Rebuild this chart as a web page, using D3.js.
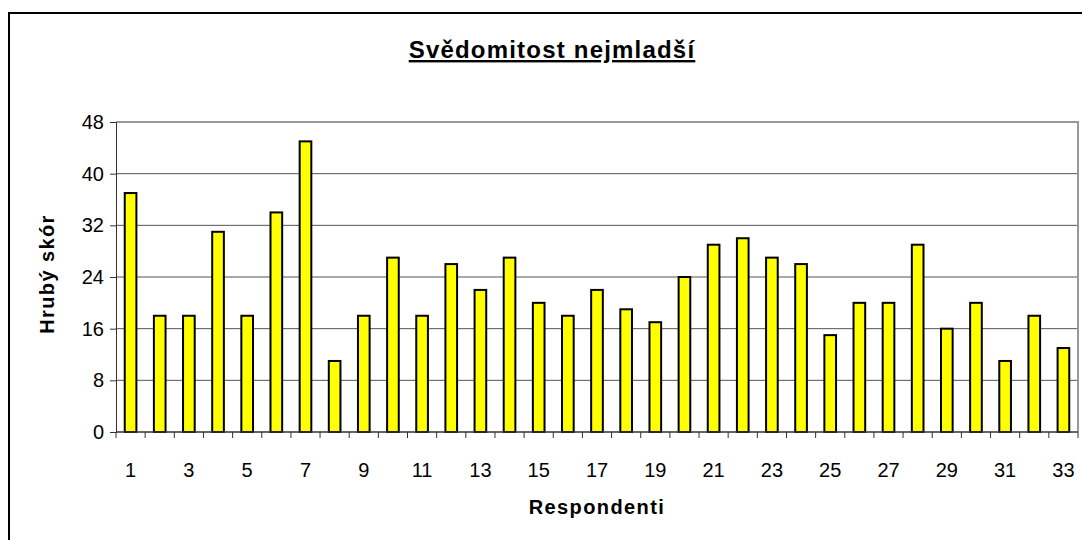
<!DOCTYPE html>
<html>
<head>
<meta charset="utf-8">
<script src="https://cdn.jsdelivr.net/npm/d3@7"></script>
<style>
  body { margin: 0; background: #fff; }
  text { font-family: "Liberation Sans", Arial, sans-serif; }
</style>
</head>
<body>
<div id="chart"></div>
<script>
// Svědomitost nejmladší - hrubý skór podle respondentů
var respondents = d3.range(1, 34);
var scores = [37, 18, 18, 31, 18, 34, 45, 11, 18, 27, 18, 26, 22, 27, 20, 18, 22, 19, 17, 24,
              29, 30, 27, 26, 15, 20, 20, 29, 16, 20, 11, 18, 13];
var yTicks = [0, 8, 16, 24, 32, 40, 48];

var width = 1082,
    height = 540,
    plotLeft = 116, plotRight = 1078,
    plotTop = 122, plotBottom = 432;

var svg = d3.select('#chart').append('svg')
    .attr('width', width)
    .attr('height', height);

// outer frame
svg.append('rect')
    .attr('x', 9).attr('y', 13)
    .attr('width', 1100).attr('height', 560)
    .style('fill', 'none')
    .style('stroke', '#000')
    .style('stroke-width', 2);

var xScale = d3.scaleBand()
    .domain(respondents)
    .range([plotLeft, plotRight])
    .paddingInner(0.6)
    .paddingOuter(0.3);

var xBand = d3.scaleBand()
    .domain(respondents)
    .range([plotLeft, plotRight]);

var yScale = d3.scaleLinear()
    .domain([0, 48])
    .range([plotBottom, plotTop]);

// gridlines
svg.append('g').selectAll('line').data(yTicks.filter(function(d) { return d > 0 && d < 48; }))
    .enter().append('line')
        .attr('x1', plotLeft).attr('x2', plotRight)
        .attr('y1', function(d) { return yScale(d); })
        .attr('y2', function(d) { return yScale(d); })
        .style('stroke', '#555')
        .style('stroke-width', 1);

// plot border (top/right)
svg.append('path')
    .attr('d', 'M' + plotLeft + ',' + plotTop + 'H' + plotRight + 'V' + plotBottom)
    .style('fill', 'none')
    .style('stroke', '#999')
    .style('stroke-width', 2);

// bars
svg.append('g').selectAll('rect').data(scores)
    .enter().append('rect')
        .attr('x', function(d, i) { return xScale(respondents[i]); })
        .attr('width', xScale.bandwidth())
        .attr('y', function(d) { return yScale(d); })
        .attr('height', function(d) { return yScale(0) - yScale(d); })
        .style('fill', '#ffff00')
        .style('stroke', '#000')
        .style('stroke-width', 2);

// y axis
var yAxis = svg.append('g')
    .attr('transform', 'translate(' + plotLeft + ',0)')
    .call(d3.axisLeft(yScale).tickValues(yTicks).tickSize(6).tickPadding(6));
yAxis.select('.domain').style('stroke', '#333');
yAxis.selectAll('.tick line').style('stroke', '#333');
yAxis.selectAll('text')
    .style('font-size', '20px')
    .style('fill', '#000');

// x axis: ticks at category boundaries, labels on odd respondents
var xAxisG = svg.append('g')
    .attr('transform', 'translate(0,' + plotBottom + ')');
xAxisG.append('line')
    .attr('x1', plotLeft).attr('x2', plotRight)
    .style('stroke', '#333').style('stroke-width', 1.5);
xAxisG.selectAll('.tk').data(respondents.concat([34]))
    .enter().append('line')
        .attr('class', 'tk')
        .attr('x1', function(d) { return d === 34 ? plotRight : xBand(d); })
        .attr('x2', function(d) { return d === 34 ? plotRight : xBand(d); })
        .attr('y1', 0).attr('y2', 6)
        .style('stroke', '#333');
xAxisG.selectAll('.lbl').data(respondents.filter(function(d) { return d % 2 === 1; }))
    .enter().append('text')
        .attr('class', 'lbl')
        .attr('x', function(d) { return xBand(d) + xBand.bandwidth() / 2; })
        .attr('y', 45)
        .attr('text-anchor', 'middle')
        .style('font-size', '20px')
        .text(function(d) { return d; });

// titles
svg.append('text')
    .attr('x', 552).attr('y', 58)
    .attr('text-anchor', 'middle')
    .style('font-size', '24px')
    .style('font-weight', 'bold')
    .style('letter-spacing', '1.2px')
    .style('text-decoration', 'underline')
    .text('Svědomitost nejmladší');

svg.append('text')
    .attr('x', (plotLeft + plotRight) / 2).attr('y', 514)
    .attr('text-anchor', 'middle')
    .style('font-size', '20px')
    .style('font-weight', 'bold')
    .style('letter-spacing', '1.4px')
    .text('Respondenti');

svg.append('text')
    .attr('transform', 'translate(54,274) rotate(-90)')
    .attr('text-anchor', 'middle')
    .style('font-size', '20px')
    .style('font-weight', 'bold')
    .style('letter-spacing', '1.4px')
    .text('Hrubý skór');
</script>
</body>
</html>
